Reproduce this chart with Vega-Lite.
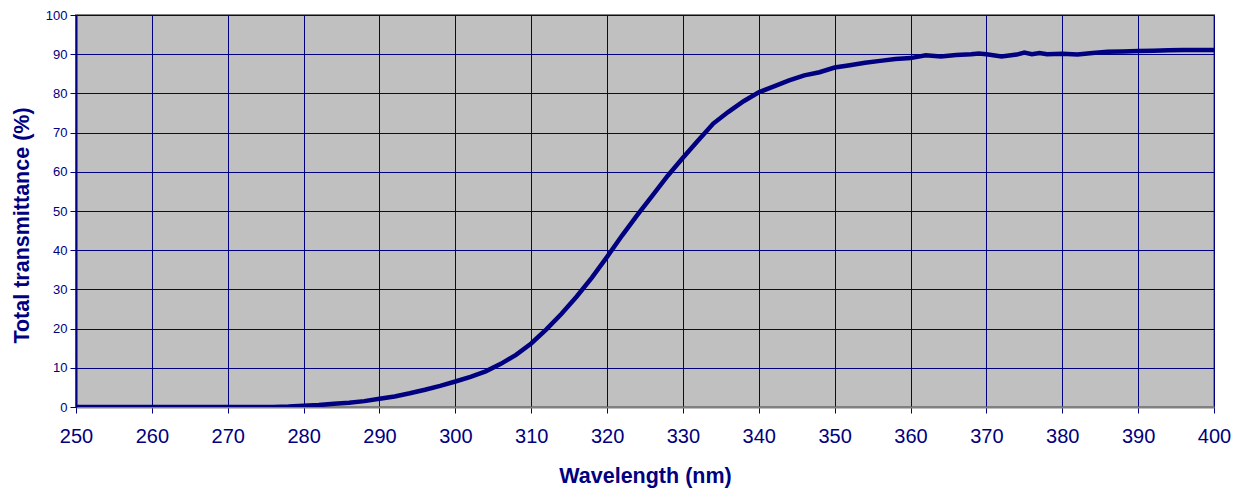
{
  "$schema": "https://vega.github.io/schema/vega-lite/v6.json",
  "width": 1138,
  "height": 392,
  "autosize": {"type": "none"},
  "padding": {"left": 76, "top": 15, "right": 25, "bottom": 83},
  "background": "#ffffff",
  "config": {
    "font": "Liberation Sans",
    "view": {"fill": "#C0C0C0", "stroke": "#808080", "strokeWidth": 2}
  },
  "data": {
    "values": [
      {"nm": 250, "t": 0}, {"nm": 255, "t": 0}, {"nm": 260, "t": 0}, {"nm": 265, "t": 0},
      {"nm": 270, "t": 0}, {"nm": 274, "t": 0}, {"nm": 276, "t": 0}, {"nm": 278, "t": 0.1},
      {"nm": 280, "t": 0.3}, {"nm": 282, "t": 0.5}, {"nm": 284, "t": 0.8}, {"nm": 286, "t": 1.1},
      {"nm": 288, "t": 1.5}, {"nm": 290, "t": 2.1}, {"nm": 292, "t": 2.7}, {"nm": 294, "t": 3.5},
      {"nm": 296, "t": 4.4}, {"nm": 298, "t": 5.4}, {"nm": 300, "t": 6.5}, {"nm": 302, "t": 7.7},
      {"nm": 304, "t": 9.1}, {"nm": 306, "t": 11}, {"nm": 308, "t": 13.3}, {"nm": 310, "t": 16.2},
      {"nm": 312, "t": 19.8}, {"nm": 314, "t": 23.8}, {"nm": 316, "t": 28.2}, {"nm": 318, "t": 33},
      {"nm": 320, "t": 38.3}, {"nm": 322, "t": 43.8}, {"nm": 324, "t": 49}, {"nm": 326, "t": 54},
      {"nm": 328, "t": 59}, {"nm": 330, "t": 63.6}, {"nm": 332, "t": 68}, {"nm": 334, "t": 72.3},
      {"nm": 336, "t": 75.3}, {"nm": 338, "t": 78}, {"nm": 340, "t": 80.3}, {"nm": 342, "t": 81.8},
      {"nm": 344, "t": 83.3}, {"nm": 346, "t": 84.6}, {"nm": 348, "t": 85.4}, {"nm": 350, "t": 86.6},
      {"nm": 352, "t": 87.2}, {"nm": 354, "t": 87.8}, {"nm": 356, "t": 88.3}, {"nm": 358, "t": 88.8},
      {"nm": 360, "t": 89}, {"nm": 362, "t": 89.7}, {"nm": 364, "t": 89.4}, {"nm": 366, "t": 89.8},
      {"nm": 368, "t": 90}, {"nm": 369, "t": 90.2}, {"nm": 370, "t": 90}, {"nm": 372, "t": 89.4},
      {"nm": 374, "t": 89.9}, {"nm": 375, "t": 90.4}, {"nm": 376, "t": 90}, {"nm": 377, "t": 90.3},
      {"nm": 378, "t": 90}, {"nm": 380, "t": 90.1}, {"nm": 382, "t": 89.9}, {"nm": 384, "t": 90.3},
      {"nm": 386, "t": 90.6}, {"nm": 388, "t": 90.7}, {"nm": 390, "t": 90.8}, {"nm": 392, "t": 90.9},
      {"nm": 394, "t": 91}, {"nm": 396, "t": 91.1}, {"nm": 398, "t": 91.1}, {"nm": 400, "t": 91.1}
    ]
  },
  "mark": {"type": "line", "color": "#000080", "strokeWidth": 4.5, "clip": true},
  "encoding": {
    "x": {
      "field": "nm",
      "type": "quantitative",
      "scale": {"domain": [250, 400], "nice": false, "zero": false},
      "axis": {
        "values": [250, 260, 270, 280, 290, 300, 310, 320, 330, 340, 350, 360, 370, 380, 390, 400],
        "title": "Wavelength (nm)",
        "titleFont": "Liberation Sans",
        "titleFontSize": 21.5,
        "titleFontWeight": "bold",
        "titleColor": "#000080",
        "titleBaseline": "middle",
        "titleY": 69,
        "labelFontSize": 20,
        "labelColor": "#000080",
        "labelPadding": 13,
        "labelFlush": false,
        "tickColor": "#000080",
        "tickSize": 6,
        "domainColor": "#808080",
        "domainWidth": 2,
        "grid": true,
        "gridColor": "#000080",
        "gridWidth": 1,
        "gridOpacity": 1
      }
    },
    "y": {
      "field": "t",
      "type": "quantitative",
      "scale": {"domain": [0, 100], "nice": false},
      "axis": {
        "values": [0, 10, 20, 30, 40, 50, 60, 70, 80, 90, 100],
        "title": "Total transmittance (%)",
        "titleFont": "Liberation Sans",
        "titleFontSize": 21.5,
        "titleFontWeight": "bold",
        "titleColor": "#000080",
        "titlePadding": 12,
        "titleY": 210,
        "labelFontSize": 13,
        "labelColor": "#000080",
        "labelPadding": 3,
        "labelFlush": false,
        "tickColor": "#000080",
        "tickSize": 6,
        "domainColor": "#000080",
        "domainWidth": 2,
        "grid": true,
        "gridColor": "#000080",
        "gridWidth": 1,
        "gridOpacity": 1
      }
    }
  }
}
